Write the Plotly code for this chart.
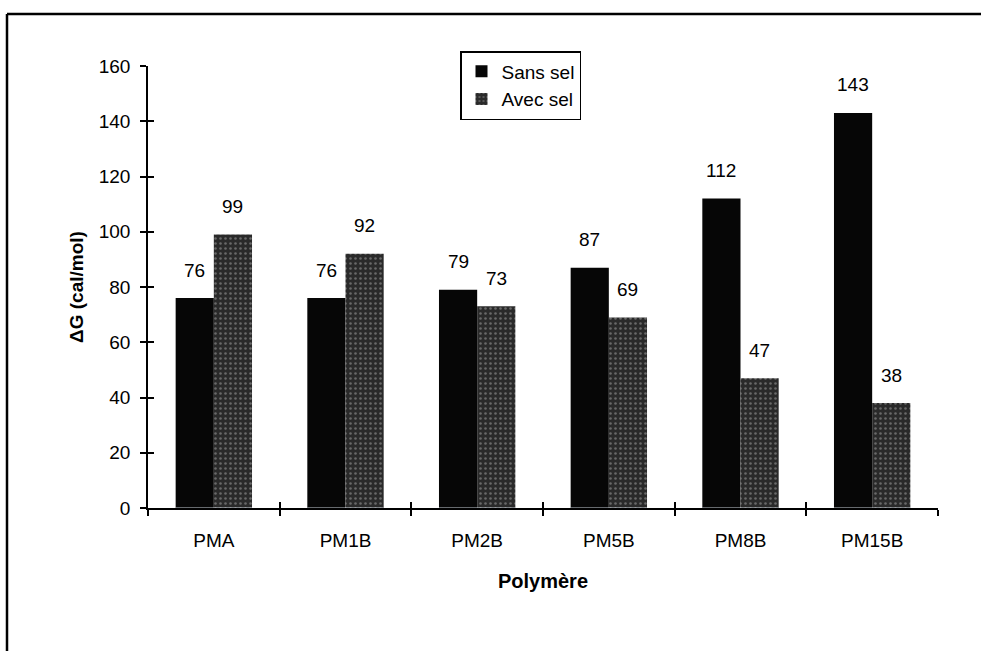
import plotly.graph_objects as go

categories = ["PMA", "PM1B", "PM2B", "PM5B", "PM8B", "PM15B"]
sans_sel = [76, 76, 79, 87, 112, 143]
avec_sel = [99, 92, 73, 69, 47, 38]
y_ticks = [0, 20, 40, 60, 80, 100, 120, 140, 160]

W, H = 981, 651
L, R, T, B = 148, 43, 66, 143
pw = W - L - R
ph = H - T - B

FONT = "Arial, Liberation Sans, sans-serif"
FS = 19

fig = go.Figure()
fig.add_trace(go.Bar(
    x=categories, y=sans_sel, name="Sans sel",
    marker=dict(color="#060606", line=dict(width=0)),
))
fig.add_trace(go.Bar(
    x=categories, y=avec_sel, name="Avec sel",
    marker=dict(color="#333333", line=dict(width=0),
                pattern=dict(shape=".", fgcolor="#a8a8a8", bgcolor="#2a2a2a",
                             size=5, solidity=0.2)),
))

# value labels
cat_px = pw / len(categories)
bargap = 0.42
bw = cat_px * (1 - bargap) / 2
ann = []
for c, v in zip(categories, sans_sel):
    ann.append(dict(x=c, y=v, xref="x", yref="y", text=str(v), showarrow=False,
                    xshift=-bw / 2, yshift=28, font=dict(size=FS, color="black", family=FONT)))
for c, v in zip(categories, avec_sel):
    ann.append(dict(x=c, y=v, xref="x", yref="y", text=str(v), showarrow=False,
                    xshift=bw / 2, yshift=28, font=dict(size=FS, color="black", family=FONT)))

fig.update_layout(
    width=W, height=H,
    margin=dict(l=L, r=R, t=T, b=B, pad=0),
    paper_bgcolor="white", plot_bgcolor="white",
    barmode="group", bargap=bargap, bargroupgap=0,
    font=dict(family=FONT, size=FS, color="black"),
    showlegend=True,
    legend=dict(x=(460 - L) / pw, y=(H - B - 51) / ph, xanchor="left", yanchor="top",
                bordercolor="black", borderwidth=1.5, bgcolor="white",
                font=dict(size=FS, family=FONT), itemwidth=30,
                tracegroupgap=2),
    xaxis=dict(showline=True, linecolor="black", linewidth=1.5,
               ticks="outside", ticklen=6, tickwidth=1.5, tickcolor="black",
               tickson="boundaries", showgrid=False, ticklabelstandoff=14,
               tickfont=dict(size=FS, family=FONT),
               title=dict(text="<b>Polymère</b>", font=dict(size=20, family=FONT), standoff=24)),
    yaxis=dict(range=[0, 160], tickvals=y_ticks, showline=True, linecolor="black", linewidth=1.5,
               ticks="outside", ticklen=6, tickwidth=1.5, tickcolor="black",
               showgrid=False, zeroline=False, ticklabelstandoff=6,
               tickfont=dict(size=FS, family=FONT),
               title=dict(text="<b>ΔG (cal/mol)</b>", font=dict(size=19, family=FONT), standoff=10)),
    xaxis2=dict(overlaying="x", matches="x", anchor="y", showline=False, ticks="inside", ticklen=6,
                tickwidth=1.5, tickcolor="black", tickson="boundaries",
                showticklabels=False, showgrid=False, side="bottom"),
    yaxis2=dict(overlaying="y", anchor="x", range=[0, 160], tickvals=y_ticks, ticks="inside", ticklen=6,
                tickwidth=1.5, tickcolor="black", showticklabels=False, showgrid=False,
                zeroline=False, showline=False, side="left"),
    annotations=ann,
)
# dummy trace to activate overlay axes
fig.add_trace(go.Bar(x=categories, y=[0] * len(categories), xaxis="x2", yaxis="y2",
                     showlegend=False, hoverinfo="skip", marker=dict(color="rgba(0,0,0,0)")))

# outer frame (top and left edges visible)
fx0 = (7 - L) / pw
fy0 = (H - B - 14) / ph
fig.add_shape(type="line", xref="paper", yref="paper", x0=fx0, x1=(W + 5 - L) / pw,
              y0=fy0, y1=fy0, line=dict(color="black", width=2.5))
fig.add_shape(type="line", xref="paper", yref="paper", x0=fx0, x1=fx0,
              y0=fy0, y1=(-B - 10) / ph, line=dict(color="black", width=2.5))

fig.write_html("out.html")
